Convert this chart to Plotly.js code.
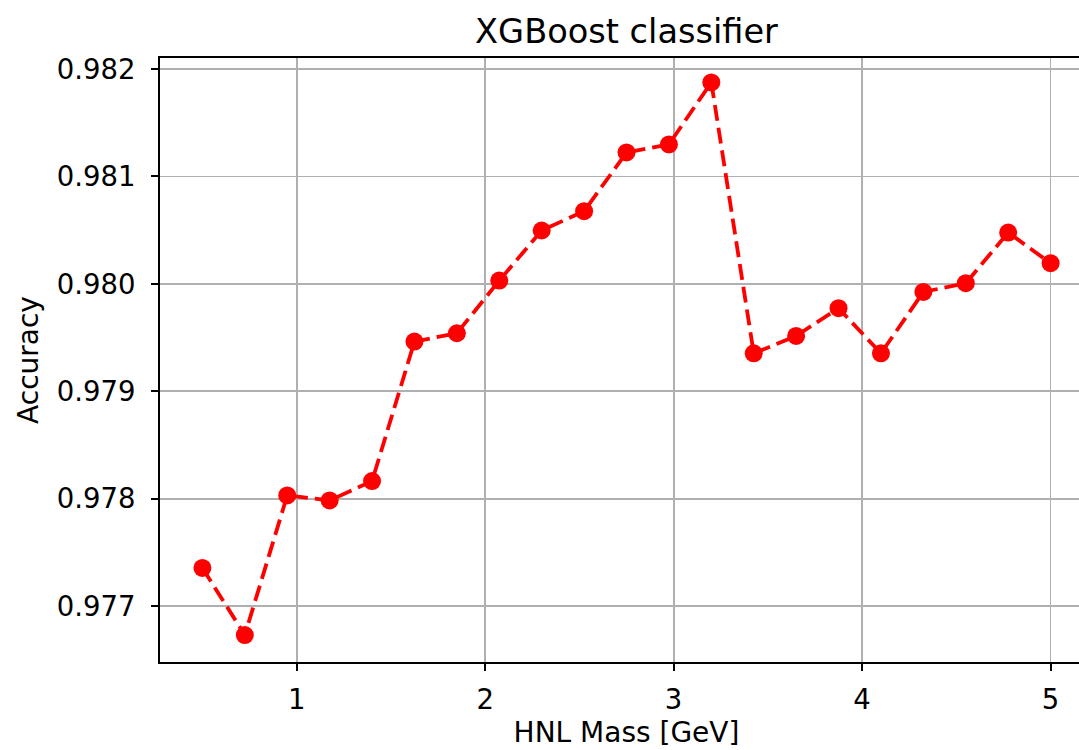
<!DOCTYPE html>
<html>
<head>
<meta charset="utf-8">
<script src="https://cdn.plot.ly/plotly-3.0.1.min.js"></script>
<style>
  html, body { margin: 0; padding: 0; overflow: hidden; background: #ffffff; }
  #chart { width: 1100px; height: 750px; }
</style>
</head>
<body>
<div id="chart"></div>
<script>
// HNL mass points (GeV) and classifier accuracy at each mass
const massGeV = [0.5, 0.725, 0.95, 1.175, 1.4, 1.625, 1.85, 2.075, 2.3, 2.525, 2.75,
                 2.975, 3.2, 3.425, 3.65, 3.875, 4.1, 4.325, 4.55, 4.775, 5.0];
const accuracy = [0.977357, 0.976733, 0.978032, 0.977985, 0.978165, 0.979463, 0.979541,
                  0.980031, 0.980497, 0.980677, 0.981223, 0.981298, 0.981875, 0.979354,
                  0.979516, 0.979774, 0.979354, 0.979925, 0.980007, 0.980478, 0.980193];
const xTicks = [1, 2, 3, 4, 5];
const yTicks = [0.977, 0.978, 0.979, 0.980, 0.981, 0.982];

const font = 'DejaVu Sans, Liberation Sans, sans-serif';

const trace = {
  x: massGeV,
  y: accuracy,
  type: 'scatter',
  mode: 'lines+markers',
  line: { color: '#ff0000', width: 3.8, dash: '16px,7px' },
  marker: { color: '#ff0000', size: 18 },
  hoverinfo: 'x+y'
};

const axisCommon = {
  showline: true,
  mirror: true,
  linecolor: '#000000',
  linewidth: 2,
  showgrid: true,
  gridcolor: '#b0b0b0',
  gridwidth: 1.8,
  zeroline: false,
  ticks: 'outside',
  ticklen: 7,
  tickwidth: 2,
  tickcolor: '#000000',
  tickfont: { family: font, size: 27.5, color: '#000000' }
};

const layout = {
  width: 1100,
  height: 750,
  margin: { l: 160, r: 7, t: 58, b: 88 },
  paper_bgcolor: '#ffffff',
  plot_bgcolor: '#ffffff',
  showlegend: false,
  title: {
    text: 'XGBoost classifier',
    font: { family: font, size: 33.6, color: '#000000' },
    xref: 'paper', x: 0.5, xanchor: 'center',
    yref: 'paper', y: 1, yanchor: 'bottom',
    pad: { b: 15 }
  },
  xaxis: Object.assign({}, axisCommon, {
    range: [0.275, 5.225],
    tickvals: xTicks,
    ticktext: xTicks.map(String),
    ticklabelstandoff: 5,
    title: { text: 'HNL Mass [GeV]', font: { family: font, size: 28, color: '#000000' }, standoff: 8 }
  }),
  yaxis: Object.assign({}, axisCommon, {
    range: [0.976482, 0.982102],
    tickvals: yTicks,
    ticktext: yTicks.map(v => v.toFixed(3)),
    ticklabelstandoff: 10,
    title: { text: 'Accuracy', font: { family: font, size: 28, color: '#000000' }, standoff: 10 }
  })
};

Plotly.newPlot('chart', [trace], layout, { displayModeBar: false, staticPlot: true });
</script>
</body>
</html>
